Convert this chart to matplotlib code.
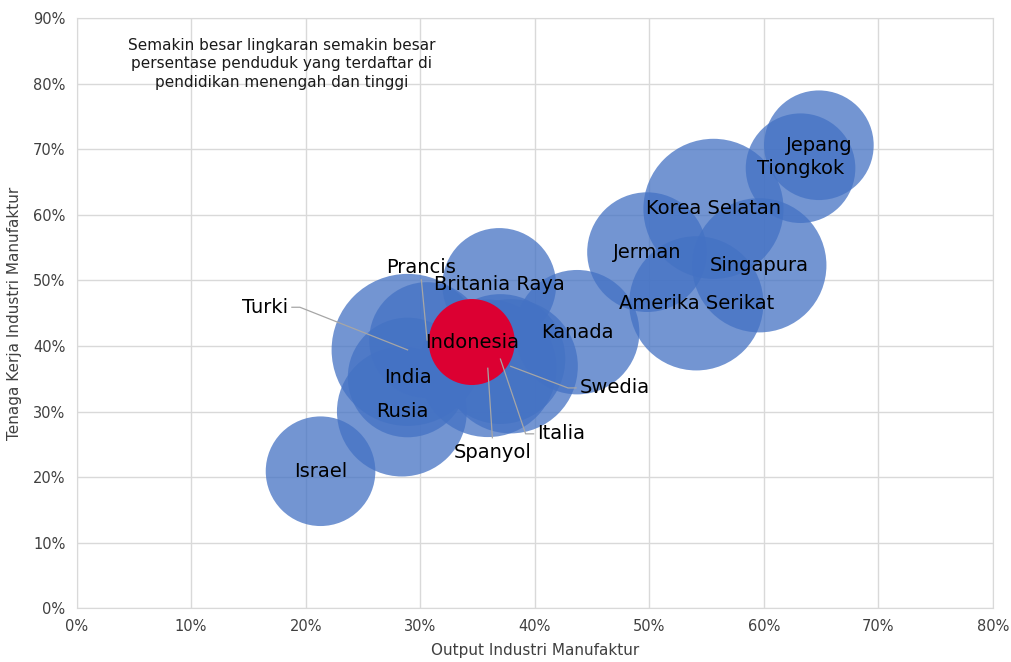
import numpy as np
import matplotlib
matplotlib.use("Agg")
import matplotlib.pyplot as plt
from matplotlib.ticker import PercentFormatter

# data: output share, labour share (percent), enrolment (bubble size)
countries = ["Israel", "Rusia", "India", "Turki", "Prancis", "Britania Raya",
             "Spanyol", "Italia", "Swedia", "Kanada", "Jerman", "Amerika Serikat",
             "Korea Selatan", "Singapura", "Tiongkok", "Jepang", "Indonesia"]
output_pct = [21.3, 28.4, 28.9, 28.9, 30.6, 36.9,
              35.9, 37.0, 37.9, 43.7, 49.8, 54.1,
              55.6, 59.6, 63.2, 64.8, 34.5]
labour_pct = [20.9, 30.0, 35.2, 39.4, 40.9, 49.3,
              36.6, 38.0, 36.9, 42.1, 54.3, 46.5,
              60.9, 52.3, 67.1, 70.6, 40.6]
enrolment = [52, 73, 62, 100, 58, 56,
             82, 73, 78, 67, 62, 78,
             85, 78, 52, 52, 32]

# labels placed away from the bubble, with leader lines (text x, y, ha, va)
callouts = {
    "Turki": (18.5, 45.9, "right", "center"),
    "Prancis": (30.1, 51.9, "center", "center"),
    "Spanyol": (36.3, 23.8, "center", "center"),
    "Italia": (40.2, 26.6, "left", "center"),
    "Swedia": (43.9, 33.6, "left", "center"),
}

plt.rcParams["font.family"] = ["DejaVu Sans"]

fig = plt.figure(figsize=(10.11, 6.62), dpi=100)
ax = fig.add_axes([0.0757, 0.0811, 0.9065, 0.8917])

scale = 119.8
blue = "#4472C4"
red = "#DC0032"
for name, x, y, v in zip(countries, output_pct, labour_pct, enrolment):
    if name == "Indonesia":
        ax.scatter(x, y, s=v * scale, color=red, edgecolors="none", zorder=4)
    else:
        ax.scatter(x, y, s=v * scale, color=blue, alpha=0.75,
                   edgecolors="none", zorder=3)

for name, x, y in zip(countries, output_pct, labour_pct):
    if name in callouts:
        tx, ty, ha, va = callouts[name]
        if ha == "right":
            sx, ex = tx + 0.3, tx + 1.0
            ax.plot([sx, ex, x], [ty, ty, y], color="#A6A6A6", lw=0.9, zorder=5)
        elif ha == "left":
            sx, ex = tx - 0.3, tx - 1.0
            ax.plot([sx, ex, x], [ty, ty, y], color="#A6A6A6", lw=0.9, zorder=5)
        else:
            sy = ty - 1.8 if ty > y else ty + 2.2
            ax.plot([tx, x], [sy, y], color="#A6A6A6", lw=0.9, zorder=5)
        ax.text(tx, ty, name, ha=ha, va=va, fontsize=14, color="black", zorder=6)
    else:
        ax.text(x, y, name, ha="center", va="center", fontsize=14,
                color="black", zorder=6)

ax.text(17.9, 87.0, "Semakin besar lingkaran semakin besar\n"
        "persentase penduduk yang terdaftar di\n"
        "pendidikan menengah dan tinggi",
        ha="center", va="top", fontsize=11, color="#1a1a1a",
        linespacing=1.3, zorder=6)

ax.set_xlim(0, 80)
ax.set_ylim(0, 90)
ax.set_xticks(np.arange(0, 81, 10))
ax.set_yticks(np.arange(0, 91, 10))
ax.xaxis.set_major_formatter(PercentFormatter(decimals=0))
ax.yaxis.set_major_formatter(PercentFormatter(decimals=0))
ax.grid(True, color="#D9D9D9", lw=1)
ax.set_axisbelow(True)
for sp in ax.spines.values():
    sp.set_color("#D9D9D9")
ax.tick_params(length=0, labelsize=10.5, colors="#404040", pad=8)
ax.set_xlabel("Output Industri Manufaktur", fontsize=11, color="#404040", labelpad=6)
ax.set_ylabel("Tenaga Kerja Industri Manufaktur", fontsize=11, color="#404040", labelpad=8)

fig.savefig("out.png", dpi=100)
